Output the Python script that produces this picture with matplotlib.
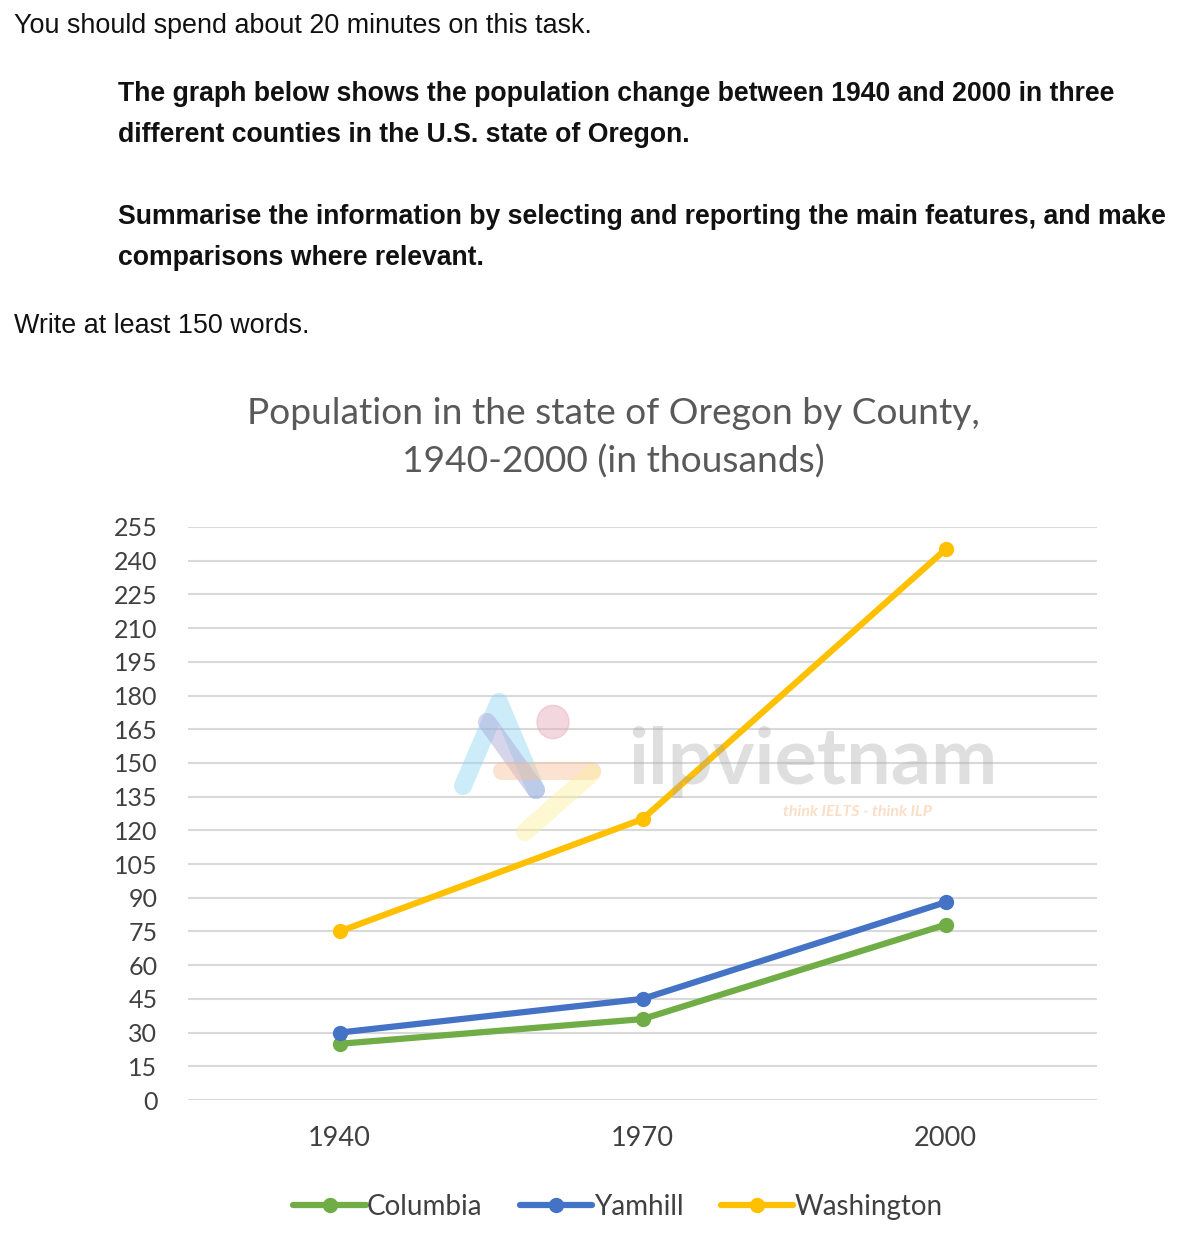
import matplotlib
matplotlib.use("Agg")
import matplotlib.pyplot as plt
from matplotlib.lines import Line2D
from matplotlib.patches import Circle

years = ["1940", "1970", "2000"]
columbia = [25, 36, 78]
yamhill = [30, 45, 88]
washington = [75, 125, 245]
series_names = ["Columbia", "Yamhill", "Washington"]
y_ticks = list(range(0, 256, 15))

colors = {"Columbia": "#70ad47", "Yamhill": "#4472c4", "Washington": "#ffc000"}

W, H = 1200, 1253
fig = plt.figure(figsize=(W / 100, H / 100), dpi=100)
fig.patch.set_facecolor("white")

def fx(x):
    return x / W

def fy(y):
    return 1 - y / H

# Task text
sans = ["Liberation Sans", "DejaVu Sans"]
fig.text(fx(14), fy(26), "You should spend about 20 minutes on this task.",
         fontsize=19.4, family=sans, va="center", ha="left", color="#111111")
bold_lines = [
    (94, "The graph below shows the population change between 1940 and 2000 in three"),
    (135, "different counties in the U.S. state of Oregon."),
    (217, "Summarise the information by selecting and reporting the main features, and make"),
    (258, "comparisons where relevant."),
]
for y, t in bold_lines:
    fig.text(fx(118), fy(y), t, fontsize=19.2, family=sans, weight="bold",
             va="center", ha="left", color="#111111")
fig.text(fx(14), fy(326), "Write at least 150 words.",
         fontsize=19.4, family=sans, va="center", ha="left", color="#111111")

# Chart title
chart_font = ["Lato", "DejaVu Sans"]
fig.text(fx(613), fy(413), "Population in the state of Oregon by County,",
         fontsize=26.7, family=chart_font, ha="center", va="center", color="#595959")
fig.text(fx(613), fy(462), "1940-2000 (in thousands)",
         fontsize=26.7, family=chart_font, ha="center", va="center", color="#595959")

ax = fig.add_axes([fx(188), fy(1100), fx(1097) - fx(188), (1100 - 527) / H])
x = list(range(len(years)))
data = {"Columbia": columbia, "Yamhill": yamhill, "Washington": washington}
handles = []
for name in series_names:
    h, = ax.plot(x, data[name], color=colors[name], lw=4.5, marker="o",
                 markersize=10, solid_capstyle="round", zorder=3, label=name)
    handles.append(h)

ax.set_xlim(-0.5, 2.5)
ax.set_ylim(0, 255)
ax.set_yticks(y_ticks)
ax.set_xticks(x)
ax.set_xticklabels(years)
ax.grid(axis="y", color="#d9d9d9", lw=1.5, zorder=0)
ax.set_axisbelow(True)
for s in ax.spines.values():
    s.set_visible(False)
ax.tick_params(axis="both", length=0, labelcolor="#404040")
ax.tick_params(axis="y", pad=22, labelsize=18)
ax.tick_params(axis="x", pad=19, labelsize=19.5)
for lab in ax.get_xticklabels() + ax.get_yticklabels():
    lab.set_family(chart_font)

# Watermark (semi-transparent, drawn over the chart like the reference)
fig.text(fx(628), fy(784), "ilpvietnam", fontsize=57,
         family=["Lato", "DejaVu Sans"], weight="bold", color="#a6a6a6", alpha=0.35,
         ha="left", va="baseline", zorder=10)
fig.text(fx(783), fy(812), "think IELTS - think ILP", fontsize=11.5,
         family=["Lato", "DejaVu Sans"], style="italic", weight="bold",
         color="#f8c9a0", alpha=0.6, ha="left", va="center", zorder=10)
logo = [
    ((463, 499, 536), (786, 702, 790), "#8fd6f5"),
    ((487, 536), (722, 790), "#a7a3d3"),
    ((502, 592), (771, 771), "#f9c09a"),
    ((592, 525), (773, 832), "#fbee9c"),
]
for xs, ys, c in logo:
    fig.add_artist(Line2D([fx(v) for v in xs], [fy(v) for v in ys],
                          transform=fig.transFigure, color=c, lw=13, alpha=0.45,
                          solid_capstyle="round", solid_joinstyle="round", zorder=9))
fig.add_artist(Circle((fx(553), fy(722)), 16 / W, transform=fig.transFigure,
                      color="#e6a8b8", alpha=0.45, zorder=9))

fig.legend(handles=handles, labels=series_names, loc="center",
           bbox_to_anchor=(fx(618), fy(1207)), ncol=3, frameon=False,
           prop={"family": "Lato", "size": 20}, labelcolor="#404040",
           handlelength=2.6, handletextpad=0.05, columnspacing=1.35)

fig.savefig("out.png", dpi=100, facecolor="white")
